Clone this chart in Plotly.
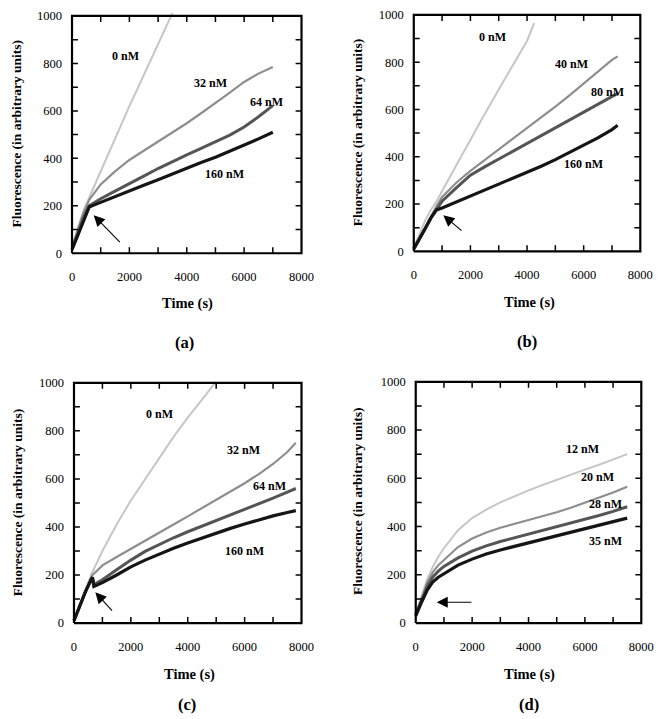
import plotly.graph_objects as go

# ---------------- data ----------------
# Panel (a)
T_A0 = [0, 200, 400, 600, 800, 1000, 1500, 2000, 2500, 3000, 3500]
A_0 = [30, 110, 180, 235, 290, 340, 480, 620, 750, 880, 1012]
T_A = [0, 200, 400, 600, 800, 1000, 1500, 2000, 2500, 3000, 3500, 4000, 4500, 5000, 5500, 6000, 6500, 7000]
A_32 = [25, 100, 170, 225, 258, 290, 345, 393, 432, 470, 508, 548, 590, 632, 677, 722, 757, 785]
A_64 = [20, 80, 150, 200, 215, 230, 262, 292, 325, 357, 387, 415, 442, 470, 498, 532, 575, 622]
A_160 = [15, 75, 140, 195, 205, 215, 240, 263, 287, 310, 335, 358, 382, 405, 430, 455, 482, 510]

# Panel (b)
T_B0 = [0, 200, 400, 600, 800, 1000, 1500, 2000, 2500, 3000, 3500, 4000, 4250]
B_0 = [15, 70, 130, 175, 210, 255, 365, 475, 580, 685, 785, 890, 965]
T_B = [0, 200, 400, 600, 800, 1000, 1500, 2000, 2500, 3000, 3500, 4000, 4500, 5000, 5500, 6000, 6500, 7000, 7200]
B_40 = [10, 55, 105, 150, 190, 230, 290, 340, 385, 430, 475, 520, 565, 612, 660, 710, 760, 810, 825]
B_80 = [10, 50, 95, 140, 178, 212, 268, 322, 357, 390, 423, 456, 489, 522, 555, 588, 621, 655, 668]
B_160 = [10, 50, 95, 140, 175, 183, 208, 234, 258, 282, 307, 333, 360, 388, 418, 448, 480, 515, 533]

# Panel (c)
T_C0 = [0, 200, 400, 600, 1000, 1500, 2000, 2500, 3000, 3500, 4000, 4500, 5000]
C_0 = [10, 75, 140, 200, 300, 410, 510, 600, 690, 775, 855, 930, 1005]
T_C = [0, 200, 400, 600, 650, 700, 1000, 1500, 2000, 2500, 3000, 3500, 4000, 4500, 5000, 5500, 6000, 6500, 7000, 7500, 7800]
C_32 = [10, 70, 130, 185, 200, 205, 240, 275, 308, 342, 376, 410, 444, 478, 512, 546, 582, 620, 662, 712, 750]
C_64 = [10, 70, 130, 180, 190, 160, 180, 222, 262, 298, 328, 355, 380, 403, 426, 449, 472, 496, 520, 545, 560]
C_160 = [10, 70, 130, 180, 190, 152, 168, 200, 234, 262, 287, 311, 333, 354, 375, 394, 412, 430, 446, 460, 468]

# Panel (d)
T_D = [0, 100, 200, 400, 600, 800, 1000, 1500, 2000, 2500, 3000, 3500, 4000, 4500, 5000, 5500, 6000, 6500, 7000, 7500]
D_12 = [40, 75, 105, 180, 232, 275, 310, 385, 435, 470, 500, 526, 550, 572, 594, 615, 636, 656, 677, 700]
D_20 = [40, 70, 95, 165, 210, 240, 262, 315, 350, 375, 395, 411, 426, 442, 459, 478, 498, 519, 541, 565]
D_28 = [35, 65, 90, 150, 190, 215, 235, 270, 298, 320, 338, 353, 368, 383, 398, 413, 429, 446, 463, 482]
D_35 = [30, 60, 85, 135, 170, 190, 205, 240, 265, 286, 303, 318, 332, 347, 362, 377, 392, 406, 420, 435]

X_RANGE = [0, 8000]
Y_RANGE = [0, 1000]
X_TICKS = [0, 1000, 2000, 3000, 4000, 5000, 6000, 7000, 8000]
X_TICKTEXT = ["0", "", "2000", "", "4000", "", "6000", "", "8000"]
Y_TICKS = [0, 100, 200, 300, 400, 500, 600, 700, 800, 900, 1000]
Y_TICKTEXT = ["0", "", "200", "", "400", "", "600", "", "800", "", "1000"]

LIGHT, MID, DARK, BLACK = "#c6c6c6", "#8e8e8e", "#555555", "#151515"
WIDTHS = {LIGHT: 2.0, MID: 2.2, DARK: 3.0, BLACK: 3.2}
FONT = "Liberation Serif, Times New Roman, serif"

panels = [
    ("x", "y",
     [(T_A0, A_0, LIGHT), (T_A, A_32, MID), (T_A, A_64, DARK), (T_A, A_160, BLACK)],
     [("0 nM", 1856, 831), ("32 nM", 4811, 716), ("64 nM", 6770, 638), ("160 nM", 5326, 333)],
     (756, 160, 1718, 41)),
    ("x2", "y2",
     [(T_B0, B_0, LIGHT), (T_B, B_40, MID), (T_B, B_80, DARK), (T_B, B_160, BLACK)],
     [("0 nM", 2783, 905), ("40 nM", 5565, 794), ("80 nM", 6841, 675), ("160 nM", 5983, 370)],
     (1043, 152, 1739, 82)),
    ("x3", "y3",
     [(T_C0, C_0, LIGHT), (T_C, C_32, MID), (T_C, C_64, DARK), (T_C, C_160, BLACK)],
     [("0 nM", 3002, 872), ("32 nM", 5944, 720), ("64 nM", 6892, 569), ("160 nM", 6002, 299)],
     (751, 128, 1385, 45)),
    ("x4", "y4",
     [(T_D, D_12, LIGHT), (T_D, D_20, MID), (T_D, D_28, DARK), (T_D, D_35, BLACK)],
     [("12 nM", 5932, 721), ("20 nM", 6457, 605), ("28 nM", 6748, 493), ("35 nM", 6748, 341)],
     (745, 86, 2028, 86)),
]

# The page body has an 8 px margin, so the figure is 8 px smaller and shifted.
OFF = 8
W, H = 670 - OFF, 719 - OFF
PAD = 3  # px of padding around each frame so the frame line is not clipped

def clamp(v):
    return max(0.0, min(1.0, v))
def xd(a, b):
    return [clamp((a - OFF) / W), clamp((b - OFF) / W)]
def yd(top, bottom):
    return [clamp(1 - (bottom - OFF) / H), clamp(1 - (top - OFF) / H)]

boxes = {
    "x": (73, 306, 12, 252),
    "x2": (420, 650, 11, 250),
    "x3": (75, 306, 383, 626),
    "x4": (422, 651, 382, 626),
}
TICK_PX = 6

fig = go.Figure()
annotations = []
layout_axes = {}
axis_common = dict(showline=False, ticks="", showgrid=False, zeroline=False,
                   tickfont=dict(family=FONT, size=12.5, color="black"))

for i, (xa, ya, series, labels, arrow) in enumerate(panels):
    l, r, tp, bt = boxes[xa]
    ux = (X_RANGE[1] - X_RANGE[0]) / (r - l)
    uy = (Y_RANGE[1] - Y_RANGE[0]) / (bt - tp)
    suffix = "" if i == 0 else str(i + 1)
    layout_axes["xaxis" + suffix] = dict(axis_common, domain=xd(l - PAD, r + PAD),
                                         range=[X_RANGE[0] - PAD * ux, X_RANGE[1] + PAD * ux],
                                         anchor="y" + suffix, tickmode="array",
                                         tickvals=X_TICKS, ticktext=X_TICKTEXT,
                                         ticklabelstandoff=14 - PAD)
    layout_axes["yaxis" + suffix] = dict(axis_common, domain=yd(tp - PAD, bt + PAD),
                                         range=[Y_RANGE[0] - PAD * uy, Y_RANGE[1] + PAD * uy],
                                         anchor="x" + suffix, tickmode="array",
                                         tickvals=Y_TICKS, ticktext=Y_TICKTEXT,
                                         ticklabelstandoff=9 - PAD)

    for t, v, c in series:
        fig.add_trace(go.Scatter(x=t, y=v, xaxis=xa, yaxis=ya, mode="lines",
                                 line=dict(color=c, width=WIDTHS[c]),
                                 showlegend=False, hoverinfo="skip"))
    tly = TICK_PX * uy
    tlx = TICK_PX * ux
    fx = [X_RANGE[0], X_RANGE[1], X_RANGE[1], X_RANGE[0], X_RANGE[0]]
    fy = [Y_RANGE[0], Y_RANGE[0], Y_RANGE[1], Y_RANGE[1], Y_RANGE[0]]
    fig.add_trace(go.Scatter(x=fx, y=fy, xaxis=xa, yaxis=ya, mode="lines",
                             line=dict(color="#000000", width=2.2),
                             showlegend=False, hoverinfo="skip"))
    tx_, ty_ = [], []
    for xv in X_TICKS[1:-1]:
        tx_ += [xv, xv, None, xv, xv, None]
        ty_ += [Y_RANGE[0], Y_RANGE[0] + tly, None, Y_RANGE[1], Y_RANGE[1] - tly, None]
    for yv in Y_TICKS[1:-1]:
        tx_ += [X_RANGE[0], X_RANGE[0] + tlx, None, X_RANGE[1], X_RANGE[1] - tlx, None]
        ty_ += [yv, yv, None, yv, yv, None]
    fig.add_trace(go.Scatter(x=tx_, y=ty_, xaxis=xa, yaxis=ya, mode="lines",
                             line=dict(color="#000000", width=1.5),
                             showlegend=False, hoverinfo="skip"))
    for txt, lx, ly in labels:
        annotations.append(dict(x=lx, y=ly, xref=xa, yref=ya, text="<b>%s</b>" % txt,
                                showarrow=False, font=dict(family=FONT, size=12, color="black")))
    hx, hy, ax_, ay_ = arrow
    annotations.append(dict(x=hx, y=hy, ax=ax_, ay=ay_, xref=xa, yref=ya, axref=xa, ayref=ya,
                            text="", showarrow=True, arrowhead=2, arrowsize=2.0,
                            arrowwidth=1.1, arrowcolor="black"))

def px(x, y):
    return clamp((x - OFF) / W), clamp(1 - (y - OFF) / H)

texts = [
    ("Time (s)", 190, 303, 14.5, 0), ("Time (s)", 537, 302, 14.5, 0),
    ("Time (s)", 192, 678, 14.5, 0), ("Time (s)", 538, 678, 14.5, 0),
    ("(a)", 187, 342, 16.5, 0), ("(b)", 535, 341, 16.5, 0),
    ("(c)", 190, 708, 16.5, 0), ("(d)", 537, 708, 16.5, 0),
    ("Fluorescence (in arbitrary units)", 17, 131, 13.5, -90),
    ("Fluorescence (in arbitrary units)", 363, 130, 13.5, -90),
    ("Fluorescence (in arbitrary units)", 18, 504, 13.5, -90),
    ("Fluorescence (in arbitrary units)", 363, 503, 13.5, -90),
]
for txt, x, y, s, ang in texts:
    xx, yy = px(x, y)
    annotations.append(dict(x=xx, y=yy, xref="paper", yref="paper", text="<b>%s</b>" % txt,
                            showarrow=False, textangle=ang, xanchor="center", yanchor="middle",
                            font=dict(family=FONT, size=s, color="black")))

fig.update_layout(width=W, height=H, margin=dict(l=0, r=0, t=0, b=0),
                  paper_bgcolor="white", plot_bgcolor="white",
                  annotations=annotations, **layout_axes)

fig.write_html("out.html")
